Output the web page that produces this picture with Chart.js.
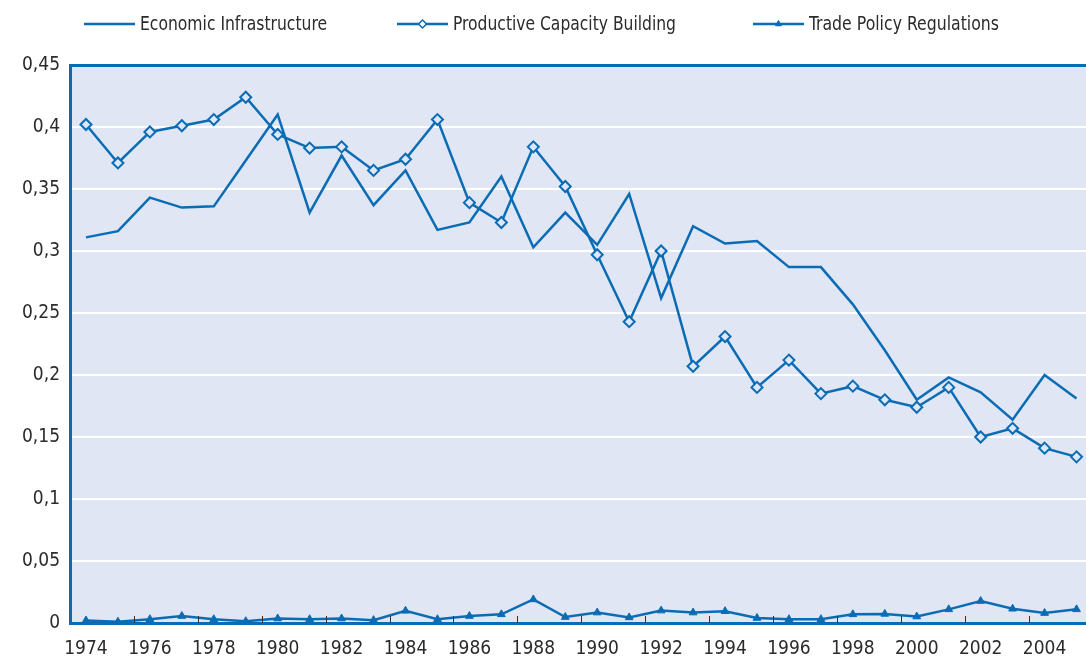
<!DOCTYPE html>
<html>
<head>
<meta charset="utf-8">
<script src="https://cdn.jsdelivr.net/npm/chart.js@4/dist/chart.umd.min.js"></script>
<style>
  html, body { margin: 0; padding: 0; background: #ffffff; overflow: hidden; width: 1086px; height: 659px; }
  #wrap { position: relative; width: 1100px; height: 659px; }
</style>
</head>
<body>
<div id="wrap"><canvas id="c" width="1100" height="659"></canvas></div>
<script>
const years = ['1974','1975','1976','1977','1978','1979','1980','1981','1982','1983','1984','1985','1986','1987','1988','1989','1990','1991','1992','1993','1994','1995','1996','1997','1998','1999','2000','2001','2002','2003','2004','2005'];
const economicInfrastructure = [0.311,0.316,0.343,0.335,0.336,0.373,0.410,0.331,0.377,0.337,0.365,0.317,0.323,0.360,0.303,0.331,0.305,0.346,0.262,0.320,0.306,0.308,0.287,0.287,0.257,0.220,0.180,0.198,0.186,0.164,0.200,0.181];
const productiveCapacity = [0.402,0.371,0.396,0.401,0.406,0.424,0.394,0.383,0.384,0.365,0.374,0.406,0.339,0.323,0.384,0.352,0.297,0.243,0.300,0.207,0.231,0.190,0.212,0.185,0.191,0.180,0.174,0.190,0.150,0.157,0.141,0.134];
const tradePolicy = [0.002,0.001,0.003,0.0056,0.003,0.0014,0.0036,0.003,0.0036,0.0023,0.0098,0.003,0.0056,0.007,0.019,0.0048,0.0084,0.0045,0.010,0.0084,0.0095,0.004,0.003,0.003,0.007,0.0073,0.0052,0.011,0.0177,0.0115,0.008,0.011];
const seriesNames = ['Economic Infrastructure','Productive Capacity Building','Trade Policy Regulations'];

const BLUE = '#0a6cb4';
const PLOT_BG = '#e0e6f4';
const TEXT = '#2b2b2b';
const FONT = "'DejaVu Sans Condensed', 'Liberation Sans Narrow', sans-serif";

const plotBg = {
  id: 'plotBg',
  beforeDraw(chart) {
    const a = chart.chartArea, ctx = chart.ctx;
    ctx.save();
    ctx.fillStyle = PLOT_BG;
    ctx.fillRect(a.left, a.top, a.right - a.left, a.bottom - a.top);
    ctx.restore();
  }
};

const innerTicks = {
  id: 'innerTicks',
  afterDatasetsDraw(chart) {
    const x = chart.scales.x, a = chart.chartArea, ctx = chart.ctx;
    ctx.save();
    ctx.strokeStyle = '#333333';
    ctx.lineWidth = 1;
    for (let i = 2; i < years.length; i += 2) {
      const px = Math.round((x.getPixelForValue(i - 1) + x.getPixelForValue(i)) / 2) + 0.5;
      ctx.beginPath();
      ctx.moveTo(px, a.bottom);
      ctx.lineTo(px, a.bottom - 7);
      ctx.stroke();
    }
    ctx.restore();
  }
};

const customLegend = {
  id: 'customLegend',
  afterDraw(chart) {
    const ctx = chart.ctx;
    ctx.save();
    ctx.font = '19px ' + FONT;
    const starts = [84, 397, 753];
    const textWidths = [187, 223, 190];
    const sample = 51, gapText = 5;
    const y = 24;
    const styles = [null, 'rectRot', 'triangle'];
    seriesNames.forEach((n, i) => {
      const x = starts[i];
      ctx.strokeStyle = BLUE;
      ctx.lineWidth = 2.5;
      ctx.beginPath();
      ctx.moveTo(x, y);
      ctx.lineTo(x + sample, y);
      ctx.stroke();
      if (styles[i] === 'rectRot') {
        ctx.fillStyle = '#ffffff';
        ctx.lineWidth = 1.5;
        Chart.helpers.drawPoint(ctx, {pointStyle: 'rectRot', radius: 4, borderWidth: 1.5, rotation: 0}, x + sample / 2, y);
      } else if (styles[i] === 'triangle') {
        ctx.fillStyle = BLUE;
        ctx.lineWidth = 1;
        Chart.helpers.drawPoint(ctx, {pointStyle: 'triangle', radius: 3.5, borderWidth: 1, rotation: 0}, x + sample / 2, y);
      }
      const w = ctx.measureText(n).width;
      const sx = textWidths[i] / w;
      ctx.save();
      ctx.translate(x + sample + gapText, y + 1);
      ctx.scale(sx, 1);
      ctx.fillStyle = TEXT;
      ctx.textBaseline = 'middle';
      ctx.textAlign = 'left';
      ctx.fillText(n, 0, 0);
      ctx.restore();
    });
    ctx.restore();
  }
};

function fmt(v) {
  const r = parseFloat(Number(v).toFixed(2));
  return r.toString().replace('.', ',');
}

new Chart(document.getElementById('c'), {
  type: 'line',
  data: {
    labels: years,
    datasets: [
      { label: seriesNames[0], data: economicInfrastructure, borderColor: BLUE, borderWidth: 2.5, pointRadius: 0, pointHoverRadius: 0, tension: 0, fill: false },
      { label: seriesNames[1], data: productiveCapacity, borderColor: BLUE, borderWidth: 2.5, pointStyle: 'rectRot', pointRadius: 5.5, pointBorderWidth: 2, pointBackgroundColor: PLOT_BG, pointBorderColor: BLUE, tension: 0, fill: false },
      { label: seriesNames[2], data: tradePolicy, borderColor: BLUE, borderWidth: 2.5, pointStyle: 'triangle', pointRadius: 4.5, pointBorderWidth: 1, pointBackgroundColor: BLUE, pointBorderColor: BLUE, tension: 0, fill: false }
    ]
  },
  options: {
    responsive: false,
    animation: false,
    devicePixelRatio: 1,
    layout: { padding: { top: 65, left: 0, right: 6, bottom: 2 } },
    plugins: { legend: { display: false }, tooltip: { enabled: false } },
    scales: {
      x: {
        type: 'category',
        offset: true,
        afterFit(scale) { scale.height = 34; },
        grid: { display: false, offset: true, drawTicks: false },
        border: { display: true, color: BLUE, width: 3 },
        ticks: {
          autoSkip: false,
          maxRotation: 0,
          padding: 15,
          color: TEXT,
          font: { family: FONT, size: 19 },
          callback: function(v, i) { return i % 2 === 0 ? years[i] : null; }
        }
      },
      y: {
        min: 0, max: 0.45,
        afterFit(scale) { scale.width = 70; },
        grid: {
          drawTicks: false,
          color: ctx => (ctx.tick && Math.abs(ctx.tick.value - 0.45) < 1e-6) ? BLUE : '#ffffff',
          lineWidth: ctx => (ctx.tick && Math.abs(ctx.tick.value - 0.45) < 1e-6) ? 3 : 2
        },
        border: { display: true, color: BLUE, width: 3 },
        ticks: {
          stepSize: 0.05,
          padding: 10,
          color: TEXT,
          font: { family: FONT, size: 19 },
          callback: v => fmt(v)
        }
      }
    }
  },
  plugins: [plotBg, innerTicks, customLegend]
});
</script>
</body>
</html>
